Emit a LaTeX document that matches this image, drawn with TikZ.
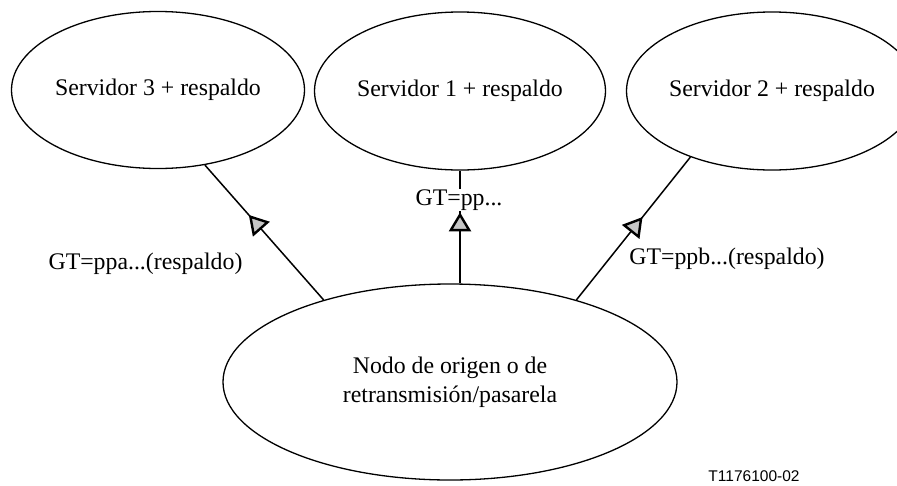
\documentclass[tikz,border=0pt]{standalone}
\usepackage{fontspec}
\setmainfont{Liberation Serif}
\newfontfamily\labelsans{Liberation Sans}
\usetikzlibrary{shapes.geometric,arrows.meta,decorations.markings}
\tikzset{
  oval/.style={draw, ellipse, line width=1.3pt, inner sep=0pt, align=center,
    font=\fontsize{23.8}{29}\selectfont},
  conn/.style={line width=1.5pt},
  lbl/.style={font=\fontsize{23.8}{29}\selectfont, inner sep=1pt},
  midarrow/.style={postaction={decorate}, decoration={markings,
    mark=at position #1 with {\arrow{Triangle[length=19pt,width=22pt,fill=gray!45,line width=2.4pt]}}}}
}
\begin{document}
\begin{tikzpicture}[x=1pt,y=-1pt]
\clip (0,0) rectangle (897,485);
\fill[white] (0,0) rectangle (897,485);
\node[oval, minimum width=293pt, minimum height=157pt] (e3) at (158,90) {Servidor 3 + respaldo};
\node[oval, minimum width=275pt, minimum height=158pt] (e1) at (460,91) {Servidor 1 + respaldo};
\node[oval, minimum width=278pt, minimum height=158pt] (e2) at (772,91) {Servidor 2 + respaldo};
\node[oval, minimum width=454pt, minimum height=196pt] (b) at (450,382) {Nodo de origen o de\\retransmisión/pasarela};
\coordinate (mtop) at (e1.south);
\coordinate (mbot) at (e1.south |- b.north);
\draw[conn, midarrow=0.63] (b.147.8) -- (e3.302.8);
\draw[conn, midarrow=0.63] (mbot) -- (mtop);
\draw[conn, midarrow=0.58] (b.33.2) -- (e2.219);
\node[lbl, fill=white] (l1) at (459,200) {GT=pp...};
\node[lbl] (l3) at (145.5,264) {GT=ppa...(respaldo)};
\node[lbl] (l2) at (727,259) {GT=ppb...(respaldo)};
\node[font=\labelsans\fontsize{15.5}{18}\selectfont, inner sep=0pt] (fig) at (754,476) {T1176100-02};
\end{tikzpicture}
\end{document}
